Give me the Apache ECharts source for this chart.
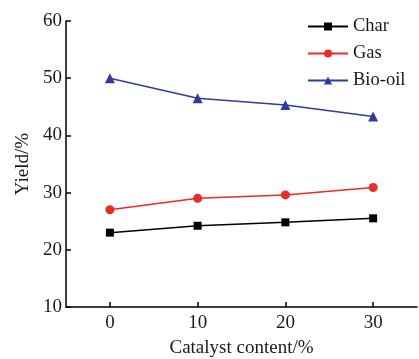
<!DOCTYPE html>
<html>
<head>
<meta charset="utf-8">
<script src="https://cdn.jsdelivr.net/npm/echarts@6/dist/echarts.min.js"></script>
<style>
html,body{margin:0;padding:0;background:#fff;}
#main{width:419px;height:359px;}
</style>
</head>
<body>
<div id="main"></div>
<script>
// 催化剂含量 vs 产率
var catalystContent = [0, 10, 20, 30];
var charYield = [23.0, 24.2, 24.8, 25.5];
var gasYield = [27.0, 29.0, 29.6, 30.9];
var bioOilYield = [50.0, 46.5, 45.3, 43.3];
var xTicks = [0, 10, 20, 30];

var fontName = 'Liberation Serif';
var txtColor = '#1a1a1a';

function toPairs(xs, ys) {
    var out = [];
    for (var i = 0; i < xs.length; i++) {
        out.push([xs[i], ys[i]]);
    }
    return out;
}

var chart = echarts.init(document.getElementById('main'));
var option = {
    animation: false,
    textStyle: {fontFamily: fontName},
    grid: {left: 66, right: 2, top: 21, bottom: 52, outerBoundsMode: 'none', containLabel: false},
    legend: {
        orient: 'vertical',
        left: 302,
        top: 12,
        itemWidth: 40,
        itemHeight: 10,
        itemGap: 8,
        textStyle: {fontFamily: fontName, fontSize: 18.5, color: txtColor},
        data: ['Char', 'Gas', 'Bio-oil']
    },
    xAxis: {
        type: 'value',
        min: -5,
        max: 35,
        name: 'Catalyst content/%',
        nameLocation: 'middle',
        nameGap: 32,
        nameTextStyle: {fontFamily: fontName, fontSize: 19, color: txtColor},
        axisLine: {onZero: false, lineStyle: {color: '#000', width: 1.5}},
        axisTick: {inside: true, length: 5, customValues: xTicks, lineStyle: {color: '#000', width: 1.5}},
        axisLabel: {customValues: xTicks, fontFamily: fontName, fontSize: 19, color: txtColor, margin: 7},
        splitLine: {show: false}
    },
    yAxis: {
        type: 'value',
        min: 10,
        max: 60,
        interval: 10,
        name: 'Yield/%',
        nameLocation: 'middle',
        nameGap: 33,
        nameTextStyle: {fontFamily: fontName, fontSize: 19, color: txtColor},
        axisLine: {show: true, onZero: false, lineStyle: {color: '#000', width: 1.5}},
        axisTick: {show: true, inside: true, length: 5, lineStyle: {color: '#000', width: 1.5}},
        axisLabel: {fontFamily: fontName, fontSize: 19, color: txtColor, margin: 4},
        splitLine: {show: false}
    },
    series: [
        {
            name: 'Char',
            type: 'line',
            data: toPairs(catalystContent, charYield),
            symbol: 'rect',
            symbolSize: 8,
            color: '#000',
            lineStyle: {width: 1.5}
        },
        {
            name: 'Gas',
            type: 'line',
            data: toPairs(catalystContent, gasYield),
            symbol: 'circle',
            symbolSize: 9,
            color: '#ec2b24',
            lineStyle: {width: 1.5}
        },
        {
            name: 'Bio-oil',
            type: 'line',
            data: toPairs(catalystContent, bioOilYield),
            symbol: 'triangle',
            symbolSize: 10,
            color: '#2d3d9e',
            lineStyle: {width: 1.5}
        }
    ]
};
chart.setOption(option);
</script>
</body>
</html>
